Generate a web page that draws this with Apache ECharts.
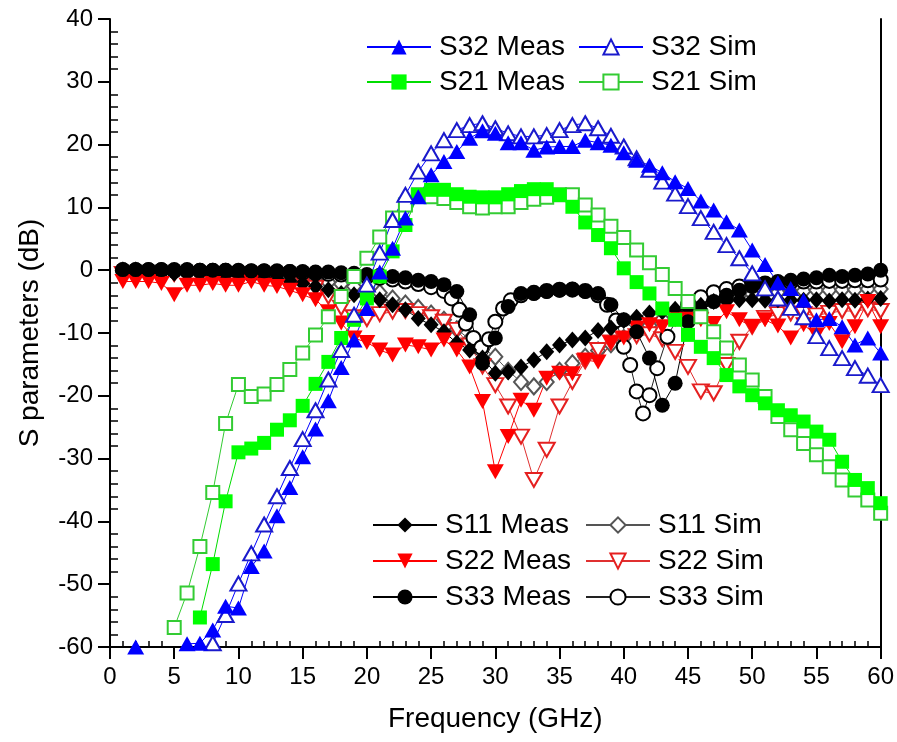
<!DOCTYPE html>
<html>
<head>
<meta charset="utf-8">
<script src="https://cdn.jsdelivr.net/npm/echarts@6/dist/echarts.min.js"></script>
<style>
  html, body { margin: 0; padding: 0; background: #fff; }
  #chart { width: 897px; height: 742px; }
</style>
</head>
<body>
<div id="chart"></div>
<script>
// Frequency points (GHz)
const freqGHz = [1,2,3,4,5,6,7,8,9,10,11,12,13,14,15,16,17,18,19,20,
  21,22,23,24,25,26,27,28,29,30,31,32,33,34,35,36,37,38,39,40,
  41,42,43,44,45,46,47,48,49,50,51,52,53,54,55,56,57,58,59,60];

// S32 (dB)
const s32Meas = [null,-60,null,null,null,-59.5,-59.4,-57.3,-53.5,-53.8,
  -47.2,-44.7,-39.1,-34.6,-29.7,-25.3,-20.8,-15.5,-11.1,-6.1,
  -0.3,3.5,8.3,11.7,15.2,17.3,18.9,21.0,22.2,21.8,
  20.3,20.3,19.1,19.6,19.7,19.7,20.7,20.3,19.9,18.7,
  17.5,16.7,15.5,14.1,13.0,11.0,9.6,7.7,6.4,3.2,
  0.9,-2.0,-2.9,-4.8,-7.9,-7.7,-9.0,-11.9,-10.8,-13.2];
const s32Sim = [null,null,null,null,null,null,null,-59.4,-54.9,-49.9,
  -45.1,-40.5,-36.0,-31.5,-26.9,-22.3,-17.4,-12.7,-7.1,-2.3,
  2.8,8.0,12.0,15.7,18.6,20.7,22.3,23.1,23.4,22.6,
  21.8,21.3,21.3,21.5,22.3,23.1,23.4,22.6,21.4,19.7,
  17.8,16.0,14.1,12.2,10.2,8.3,6.1,4.0,1.9,-0.5,
  -2.9,-4.5,-6.0,-7.5,-10.5,-12.4,-14.0,-15.6,-16.8,-18.3];

// S21 (dB)
const s21Meas = [null,null,null,null,null,null,-55.3,-46.8,-36.8,-29.0,
  -28.4,-27.5,-25.4,-23.9,-21.6,-18.1,-14.6,-10.8,-7.9,-4.5,
  -1.0,3.0,7.2,12.0,12.8,12.8,12.1,11.7,11.6,11.6,
  12.1,12.6,12.9,12.9,12.0,10.1,7.6,5.6,3.5,0.3,
  -1.9,-3.7,-6.1,-7.9,-10.3,-12.2,-14.0,-16.7,-18.5,-19.9,
  -21.2,-22.3,-23.1,-24.1,-25.7,-27.0,-30.5,-33.4,-34.7,-37.1];
const s21Sim = [null,null,null,null,-56.9,-51.4,-44.0,-35.4,-24.4,-18.2,
  -20.1,-19.7,-18.2,-15.8,-13.2,-10.3,-7.4,-4.2,-1.0,1.9,
  5.3,8.3,10.4,12.0,11.7,11.4,10.8,10.1,9.9,10.1,
  10.1,10.8,11.3,11.6,12.0,12.0,10.4,8.8,7.0,5.2,
  3.2,1.2,-0.7,-2.9,-5.0,-7.4,-9.8,-12.4,-15.1,-17.5,
  -20.1,-23.3,-25.4,-27.6,-29.4,-31.3,-33.4,-35.0,-36.6,-38.7];

// S11 (dB)
const s11Meas = [-0.3,-0.4,-0.4,-0.5,-0.5,-0.6,-0.6,-0.7,-0.8,-0.9,
  -1.2,-1.2,-1.4,-1.7,-2.1,-2.6,-3.1,-3.7,-3.9,-4.3,
  -4.7,-5.5,-6.3,-7.7,-8.7,-9.8,-11.6,-12.7,-14.0,-16.4,
  -16.2,-15.4,-14.3,-13.0,-11.9,-11.1,-10.8,-9.6,-9.2,-8.0,
  -7.5,-6.8,-6.6,-6.2,-6.1,-5.6,-5.0,-4.9,-4.7,-4.7,
  -4.8,-4.7,-4.8,-4.8,-4.7,-4.9,-4.7,-4.8,-4.6,-4.5];
const s11Sim = [-0.1,-0.1,-0.2,-0.2,-0.3,-0.3,-0.4,-0.4,-0.5,-0.6,
  -0.7,-0.8,-1.0,-1.2,-1.4,-1.6,-1.9,-2.2,-2.6,-3.0,
  -3.6,-4.5,-5.3,-6.0,-6.9,-7.9,-9.4,-11.0,-12.4,-13.8,
  -16.0,-17.8,-18.5,-17.8,-16.0,-14.8,-13.8,-12.8,-11.8,-10.8,
  -9.8,-8.8,-7.8,-6.8,-5.9,-5.2,-4.7,-4.3,-4.0,-3.8,
  -3.6,-3.5,-3.4,-3.3,-3.2,-3.2,-3.1,-3.1,-3.0,-3.0];

// S22 (dB)
const s22Meas = [-1.8,-1.8,-1.8,-2.1,-3.9,-2.4,-2.4,-2.1,-2.4,-2.4,
  -1.8,-2.4,-2.6,-3.2,-3.9,-4.7,-6.6,-8.4,-10.8,-11.5,
  -12.7,-13.5,-11.9,-12.2,-12.7,-11.1,-12.7,-15.4,-20.9,-32.1,
  -26.5,-20.7,-22.3,-17.2,-16.4,-16.5,-14.3,-14.6,-11.6,-10.8,
  -9.2,-8.7,-9.0,-7.9,-7.8,-7.9,-8.5,-6.6,-7.9,-9.0,
  -7.9,-8.9,-10.8,-8.7,-10.3,-8.5,-11.4,-9.0,-5.0,-9.0];
const s22Sim = [-0.6,-0.6,-0.6,-0.6,-0.6,-0.6,-0.6,-0.6,-0.6,-0.7,
  -0.7,-0.7,-0.8,-1.2,-1.8,-2.8,-4.2,-6.0,-7.5,-7.8,
  -7.0,-6.6,-6.5,-7.0,-7.5,-8.2,-9.5,-12.0,-15.3,-18.3,
  -21.7,-26.5,-33.4,-28.6,-21.7,-17.8,-14.5,-12.7,-11.5,-11.0,
  -10.5,-10.2,-11.0,-13.0,-15.4,-19.3,-19.6,-15.1,-11.4,-9.0,
  -7.6,-7.0,-6.9,-7.0,-7.2,-6.8,-6.5,-6.5,-6.2,-6.5];

// S33 (dB)
const s33Meas = [0.1,0.1,0.1,0.1,0.1,0.1,0.0,0.0,0.0,0.0,
  -0.1,-0.1,-0.1,-0.2,-0.2,-0.3,-0.3,-0.4,-0.5,-0.7,
  -0.8,-1.0,-1.2,-1.6,-1.8,-2.3,-3.4,-7.1,-14.8,-10.8,
  -5.8,-3.7,-3.7,-3.4,-3.2,-3.0,-3.4,-3.7,-5.5,-7.9,
  -9.8,-14.0,-21.5,-18.0,-8.2,-6.6,-5.0,-4.0,-3.2,-2.6,
  -2.1,-1.8,-1.6,-1.4,-1.2,-0.8,-1.0,-0.8,-0.6,0.0];
// S33 simulation has a finer grid around the two resonances
const s33SimFreq = [1,2,3,4,5,6,7,8,9,10,11,12,13,14,15,16,17,18,19,20,21,22,23,24,25,26,
  26.6,27.2,27.7,28.3,28.9,29.5,30,30.6,31.2,
  32,33,34,35,36,37,38,
  38.7,39.4,40,40.5,41,41.5,42,42.6,43.4,44.2,
  45,46,47,48,49,50,51,52,53,54,55,56,57,58,59,60];
const s33Sim = [0,0,0,0,-0.1,-0.1,-0.1,-0.1,-0.1,-0.2,-0.2,-0.2,-0.3,-0.3,-0.4,-0.5,-0.6,-0.7,-0.8,-1.0,-1.2,-1.5,-1.8,-2.2,-2.7,-3.3,
  -4.5,-6.3,-8.5,-10.8,-12.3,-11.0,-8.2,-6.1,-4.8,
  -4.0,-3.6,-3.3,-3.1,-3.1,-3.3,-4.0,
  -5.5,-8.0,-12.2,-15.1,-19.3,-22.8,-19.9,-15.6,-10.6,-7.5,
  -5.5,-4.3,-3.5,-3.0,-2.6,-2.3,-2.1,-2.0,-1.9,-1.8,-1.8,-1.7,-1.7,-1.6,-1.6,-1.5];

// Axis ranges and ticks
const xRange = [0, 60], xStep = 5;
const yRange = [-60, 40], yStep = 10;

const FONT = '"Liberation Sans", Arial, Helvetica, sans-serif';

function lineSeries(name, xs, ys, cfg) {
  return {
    name: name,
    type: 'line',
    xAxisIndex: 0,
    yAxisIndex: 0,
    data: xs.map((x, i) => [x, ys[i]]),
    symbol: cfg.symbol,
    symbolSize: cfg.size,
    symbolRotate: cfg.rotate || 0,
    showAllSymbol: true,
    lineStyle: { color: cfg.line, width: 1 },
    itemStyle: { color: cfg.color, borderWidth: cfg.symbol.indexOf('empty') === 0 ? 1.2 : 0 },
    emphasis: { disabled: true },
    silent: true,
    animation: false
  };
}

const series = [
  lineSeries('S11 Sim', freqGHz, s11Sim, { symbol: 'emptyDiamond', size: [14, 16], color: '#555555', line: '#555555' }),
  lineSeries('S22 Sim', freqGHz, s22Sim, { symbol: 'emptyTriangle', size: [16, 14], rotate: 180, color: '#e52020', line: '#e03030' }),
  lineSeries('S33 Sim', s33SimFreq, s33Sim, { symbol: 'emptyCircle', size: 14, color: '#000000', line: '#222222' }),
  lineSeries('S11 Meas', freqGHz, s11Meas, { symbol: 'diamond', size: [15, 17], color: '#000000', line: '#000000' }),
  lineSeries('S22 Meas', freqGHz, s22Meas, { symbol: 'triangle', size: [17, 15], rotate: 180, color: '#ff0000', line: '#ff0000' }),
  lineSeries('S33 Meas', freqGHz, s33Meas, { symbol: 'circle', size: 15, color: '#000000', line: '#000000' }),
  lineSeries('S21 Sim', freqGHz, s21Sim, { symbol: 'emptyRect', size: 13, color: '#33cc33', line: '#33cc33' }),
  lineSeries('S21 Meas', freqGHz, s21Meas, { symbol: 'rect', size: 14, color: '#00ff00', line: '#00dd00' }),
  lineSeries('S32 Sim', freqGHz, s32Sim, { symbol: 'emptyTriangle', size: [16, 14], color: '#1a1acc', line: '#0000ff' }),
  lineSeries('S32 Meas', freqGHz, s32Meas, { symbol: 'triangle', size: [17, 15], color: '#0000ff', line: '#0000ff' })
];

function legendBlock(names, left, top, gap) {
  return {
    data: names,
    orient: 'vertical',
    left: left,
    top: top,
    padding: 0,
    itemGap: gap,
    itemWidth: 64,
    itemHeight: 19,
    selectedMode: false,
    textStyle: { fontFamily: FONT, fontSize: 28, color: '#000', lineHeight: 30, padding: [0, 0, 0, 3] }
  };
}

const axisBlack = { color: '#000', width: 2 };

const option = {
  backgroundColor: '#fff',
  animation: false,
  grid: { left: 110, top: 19, width: 772, height: 628, containLabel: false },
  legend: [
    legendBlock(['S32 Meas', 'S21 Meas'], 366, 32, 5),
    legendBlock(['S32 Sim', 'S21 Sim'], 578, 32, 5),
    legendBlock(['S11 Meas', 'S22 Meas', 'S33 Meas'], 372, 510, 6),
    legendBlock(['S11 Sim', 'S22 Sim', 'S33 Sim'], 585, 510, 6)
  ],
  xAxis: [
    {
      type: 'value', min: xRange[0], max: xRange[1], interval: xStep, position: 'bottom',
      name: 'Frequency (GHz)', nameLocation: 'middle', nameGap: 58,
      nameTextStyle: { fontFamily: FONT, fontSize: 28, color: '#000' },
      axisLine: { show: true, onZero: false, lineStyle: axisBlack },
      axisTick: { show: true, inside: false, length: 12, lineStyle: axisBlack },
      axisLabel: { fontFamily: FONT, fontSize: 24, color: '#000', margin: 18 },
      splitLine: { show: false }
    },
    {
      // minor ticks pointing into the plot
      type: 'value', min: xRange[0], max: xRange[1], interval: xStep, position: 'bottom',
      axisLine: { show: false, onZero: false },
      axisTick: { show: false, inside: true },
      minorTick: { show: true, splitNumber: 5, length: 6, lineStyle: { color: '#000', width: 1.5 } },
      axisLabel: { show: false },
      splitLine: { show: false }
    }
  ],
  yAxis: [
    {
      type: 'value', min: yRange[0], max: yRange[1], interval: yStep, position: 'left',
      name: 'S parameters (dB)', nameLocation: 'middle', nameGap: 66,
      nameTextStyle: { fontFamily: FONT, fontSize: 28, color: '#000' },
      axisLine: { show: true, onZero: false, lineStyle: axisBlack },
      axisTick: { show: true, inside: false, length: 12, lineStyle: axisBlack },
      axisLabel: { fontFamily: FONT, fontSize: 24, color: '#000', margin: 17 },
      splitLine: { show: false }
    },
    {
      // right frame line
      type: 'value', min: yRange[0], max: yRange[1], interval: yStep, position: 'right',
      axisLine: { show: true, onZero: false, lineStyle: axisBlack },
      axisTick: { show: false },
      axisLabel: { show: false },
      splitLine: { show: false }
    },
    {
      // minor ticks pointing into the plot
      type: 'value', min: yRange[0], max: yRange[1], interval: yStep, position: 'left',
      axisLine: { show: false, onZero: false },
      axisTick: { show: false, inside: true },
      minorTick: { show: true, splitNumber: 5, length: 8, lineStyle: { color: '#000', width: 1.5 } },
      axisLabel: { show: false },
      splitLine: { show: false }
    }
  ],
  series: series
};

const chart = echarts.init(document.getElementById('chart'), null, { renderer: 'canvas' });
chart.setOption(option);
</script>
</body>
</html>
